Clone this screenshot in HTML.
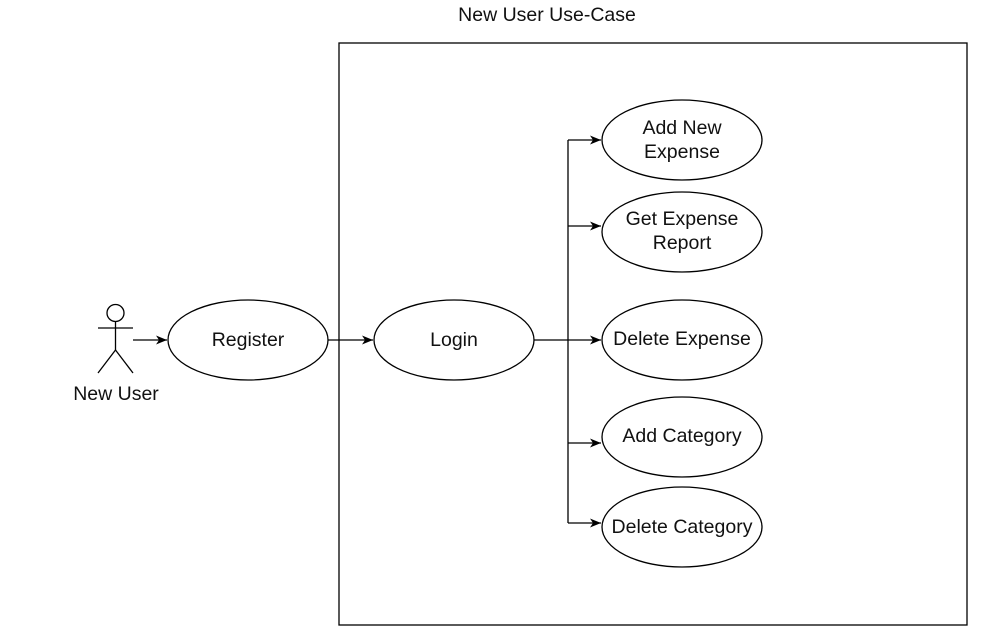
<!DOCTYPE html>
<html><head><meta charset="utf-8"><style>
html,body{margin:0;padding:0;background:#fff;}
svg text{font-family:"Liberation Sans",Arial,sans-serif;font-size:19.5px;fill:#111;}
</style></head><body>
<svg width="989" height="639" viewBox="0 0 989 639" xmlns="http://www.w3.org/2000/svg">
<defs><marker id="a" markerWidth="12" markerHeight="12" refX="11" refY="6" orient="auto" markerUnits="userSpaceOnUse"><path d="M0,1.5 L11,6 L0,10.5 L3,6 Z" fill="#000"/></marker></defs>
<text x="547" y="21" text-anchor="middle">New User Use-Case</text>
<rect x="339" y="43" width="628" height="582" fill="none" stroke="#000" stroke-width="1.3"/>
<g stroke="#000" stroke-width="1.3" fill="none">
<circle cx="115.5" cy="313" r="8.5"/>
<line x1="115.5" y1="321.5" x2="115.5" y2="350"/>
<line x1="98" y1="328" x2="133" y2="328"/>
<line x1="115.5" y1="350" x2="98" y2="373"/>
<line x1="115.5" y1="350" x2="133" y2="373"/>
<ellipse cx="248" cy="340" rx="80" ry="40"/>
<ellipse cx="454" cy="340" rx="80" ry="40"/>
<ellipse cx="682" cy="140" rx="80" ry="40"/>
<ellipse cx="682" cy="232" rx="80" ry="40"/>
<ellipse cx="682" cy="340" rx="80" ry="40"/>
<ellipse cx="682" cy="437" rx="80" ry="40"/>
<ellipse cx="682" cy="527" rx="80" ry="40"/>
<line x1="133" y1="340" x2="167" y2="340" marker-end="url(#a)"/>
<line x1="328" y1="340" x2="373" y2="340" marker-end="url(#a)"/>
<polyline points="534,340 568,340"/>
<line x1="568" y1="140" x2="568" y2="523"/>
<line x1="568" y1="140" x2="601" y2="140" marker-end="url(#a)"/>
<line x1="568" y1="226" x2="601" y2="226" marker-end="url(#a)"/>
<line x1="568" y1="340" x2="601" y2="340" marker-end="url(#a)"/>
<line x1="568" y1="443" x2="601" y2="443" marker-end="url(#a)"/>
<line x1="568" y1="523" x2="601" y2="523" marker-end="url(#a)"/>
</g>
<text x="116" y="400" text-anchor="middle">New User</text>
<text x="248" y="346" text-anchor="middle">Register</text>
<text x="454" y="346" text-anchor="middle">Login</text>
<text x="682" y="134" text-anchor="middle">Add New</text>
<text x="682" y="158" text-anchor="middle">Expense</text>
<text x="682" y="225" text-anchor="middle">Get Expense</text>
<text x="682" y="249" text-anchor="middle">Report</text>
<text x="682" y="345" text-anchor="middle">Delete Expense</text>
<text x="682" y="442" text-anchor="middle">Add Category</text>
<text x="682" y="533" text-anchor="middle">Delete Category</text>
</svg>
</body></html>
